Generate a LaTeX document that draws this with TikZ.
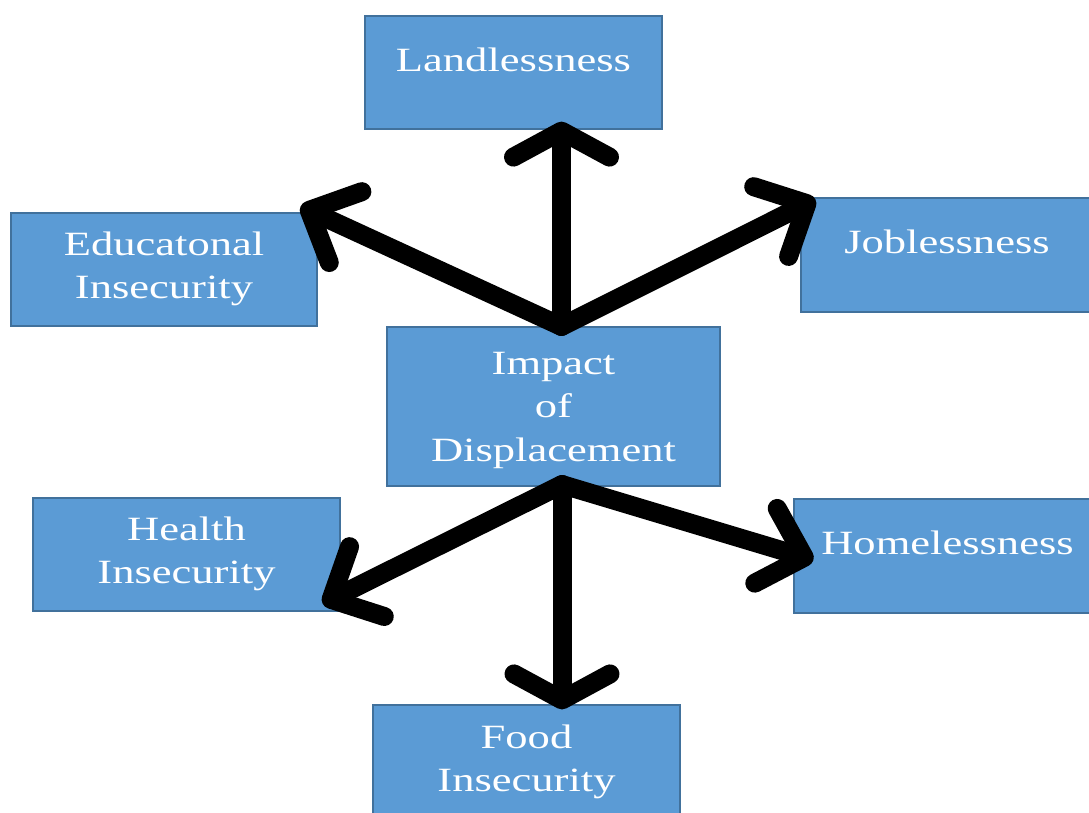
\documentclass[tikz,border=0pt]{standalone}
\usepackage{fontspec}
\setmainfont{Liberation Serif}[FakeStretch=1.31]
\usetikzlibrary{arrows.meta,calc}

\definecolor{boxfill}{HTML}{5B9BD5}
\definecolor{boxline}{HTML}{41719C}

\newcommand{\twolines}[2]{\begin{tabular}[t]{@{}c@{}}#1\\#2\end{tabular}}
\newcommand{\threelines}[3]{\begin{tabular}[t]{@{}c@{}}#1\\#2\\#3\end{tabular}}

\tikzset{
  topicbox/.style={draw=boxline, line width=1.2pt, fill=boxfill, text=white,
    rectangle, inner sep=0pt, font=\fontsize{34}{43.5}\selectfont,
    text height=30pt, text depth=33pt},
  onerow/.style={text depth=33pt},
  tworows/.style={text depth=59pt},
  threerows/.style={text depth=95pt},
  tipv/.style={-{Straight Barb[length=26pt,width=96pt,round]}},
  tipd/.style={-{Straight Barb[length=40pt,width=78pt,round]}},
  bigarrow/.style={draw=black, line width=19pt, line cap=round, line join=round}
}

\begin{document}
\begin{tikzpicture}[x=1pt,y=-1pt]
  \useasboundingbox (0,0) rectangle (1089,812);
  \clip (0,0) rectangle (1089,812);

  % topic boxes
  \node[topicbox, onerow, minimum width=297pt, minimum height=113pt]
    (land) at (513.5,72.5) {Landlessness};
  \node[topicbox, tworows, minimum width=306pt, minimum height=113pt]
    (edu) at (164,269.5) {\twolines{Educatonal}{Insecurity}};
  \node[topicbox, onerow, minimum width=292pt, minimum height=114pt]
    (job) at (947,255) {Joblessness};
  \node[topicbox, threerows, minimum width=333pt, minimum height=159pt]
    (impact) at (553.5,406.5) {\threelines{Impact}{of}{Displacement}};
  \node[topicbox, tworows, minimum width=307pt, minimum height=113pt]
    (health) at (186.5,554.5) {\twolines{Health}{Insecurity}};
  \node[topicbox, onerow, minimum width=307pt, minimum height=114pt]
    (home) at (947.5,556) {Homelessness};
  \node[topicbox, tworows, text depth=57pt, minimum width=307pt, minimum height=113pt]
    (food) at (526.5,761.5) {\twolines{Food}{Insecurity}};

  % hubs where the arrows leave the centre box
  \coordinate (up) at ($(impact.north)+(8,0)$);
  \coordinate (down) at ($(impact.south)+(8.5,-2)$);

  % arrows to the upper boxes
  \draw[bigarrow, tipv] (up) -- ($(land.south)+(48,-8)$);
  \draw[bigarrow, tipd] (up) -- ($(edu.north east)+(-17,-6)$);
  \draw[bigarrow, tipd] (up) -- ($(job.north west)+(15,2)$);

  % arrows to the lower boxes
  \draw[bigarrow, tipd] (down) -- ($(health.south east)+(-18,-8)$);
  \draw[bigarrow, tipv] (down) -- ($(food.north)+(35.5,5)$);
  \draw[bigarrow, tipd] (down) -- ($(home.west)+(20,4)$);
\end{tikzpicture}
\end{document}
